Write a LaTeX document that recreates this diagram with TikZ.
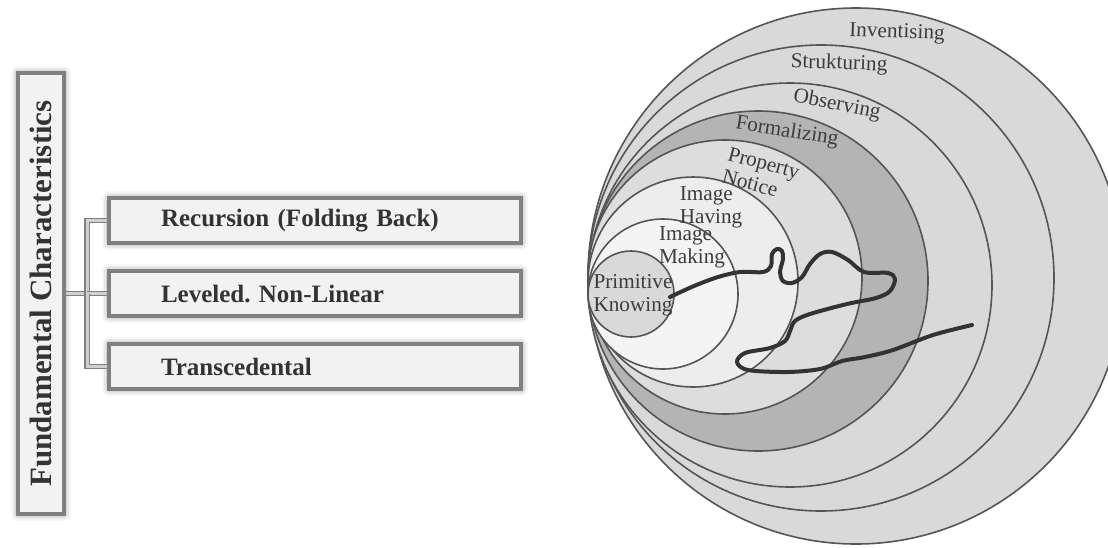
\documentclass[tikz,border=0pt]{standalone}
\usepackage{fontspec}
\setmainfont{Liberation Serif}
\usepackage{tikz}
\usetikzlibrary{shadows.blur}
\frenchspacing
\definecolor{boxrim}{HTML}{808080}
\definecolor{boxfill}{HTML}{F2F2F2}
\definecolor{boxtext}{HTML}{333333}
\definecolor{ringline}{HTML}{555555}
\definecolor{ringtext}{HTML}{3C3C3C}
\definecolor{pathcol}{HTML}{333333}
\tikzset{
		char box/.style={draw=boxrim, line width=1.8pt, fill=boxfill, text=boxtext,
			blur shadow={shadow xshift=0pt, shadow yshift=0pt, shadow blur radius=3.5pt, shadow opacity=50},
			font=\bfseries\fontsize{12.5}{14}\selectfont},
		item box/.style={char box, text width=154pt, inner xsep=26pt, align=left, minimum height=22.5pt},
		link/.style={draw=boxrim, line width=0.7pt, double=boxfill!70!boxrim, double distance=1.5pt},
		level/.style={draw=ringline, line width=0.8pt},
		level text/.style={text=ringtext, font=\fontsize{10.6}{11.5}\selectfont, inner sep=0pt},
		learning path/.style={draw=pathcol, line width=2pt, line cap=round, line join=round}
	}

\begin{document}
\begin{tikzpicture}[x=0.5pt,y=-0.5pt,node distance=36.5pt]
				\useasboundingbox (0,0) rectangle (1108,547);

				\node[char box, rotate=90, minimum width=220.5pt, minimum height=23pt,
					font=\bfseries\fontsize{15.5}{17}\selectfont] (fc) at (41,293.5) {Fundamental Characteristics};
				\node[item box]                   (rec)   at (315,220.5) {Recursion (Folding Back)};
				\node[item box] [below of = rec]  (lev)                  {Leveled. Non-Linear};
				\node[item box] [below of = lev]  (trans)                {Transcedental};

				\coordinate (fork) at (87,293.5);
				\path[link] (fc.south) -- (fork);
				\path[link] (fork) |- (rec.west);
				\path[link] (fork) -- (lev.west);
				\path[link] (fork) |- (trans.west);

				\path[level, fill=gray!30] (856,276) circle (268);
				\path[level, fill=gray!30] (821,278) circle (233);
				\path[level, fill=gray!30] (790,285) circle (202);
				\path[level, fill=gray!59] (758,281) circle (170);
				\path[level, fill=gray!27] (725,277) circle (137);
				\path[level, fill=gray!14] (693,282) circle (105);
				\path[level, fill=gray!9]  (663,294) circle (75);
				\path[level, fill=gray!30] (631,294) circle (43);

				\draw[learning path] plot[smooth, tension=0.55] coordinates {
					(670,297) (694,286) (718,277) (740,272) (763,272) (771,266) (772,254)
					(777,249) (782,251) (783,259) (780,272) (783,281) (792,283) (802,277)
					(810,264) (820,254) (832,252) (848,260) (864,272) (888,273) (895,279)
					(890,291) (876,298) (847,304) (810,314) (795,321) (790,331) (785,341)
					(770,348) (745,353) (737,362) (748,370) (787,372) (820,369) (842,361)
					(865,357) (893,350) (933,335) (972,325)};

				\node[level text, rotate=-2]               (inv)  at (897,33)  {Inventising};
				\node[level text, rotate=-2]               (str)  at (839,64)  {Strukturing};
				\node[level text, rotate=-11]              (obs)  at (837,105) {Observing};
				\node[level text, rotate=-9]               (form) at (787,132) {Formalizing};
				\node[level text, rotate=-15, align=left]  (prop) at (761,174) {Property\\Notice};
				\node[level text, align=left]              (have) at (711,207) {Image\\Having};
				\node[level text, align=left]              (make) at (692,247) {Image\\Making};
				\node[level text, align=left]              (prim) at (633,295) {Primitive\\Knowing};
			\end{tikzpicture}
\end{document}
